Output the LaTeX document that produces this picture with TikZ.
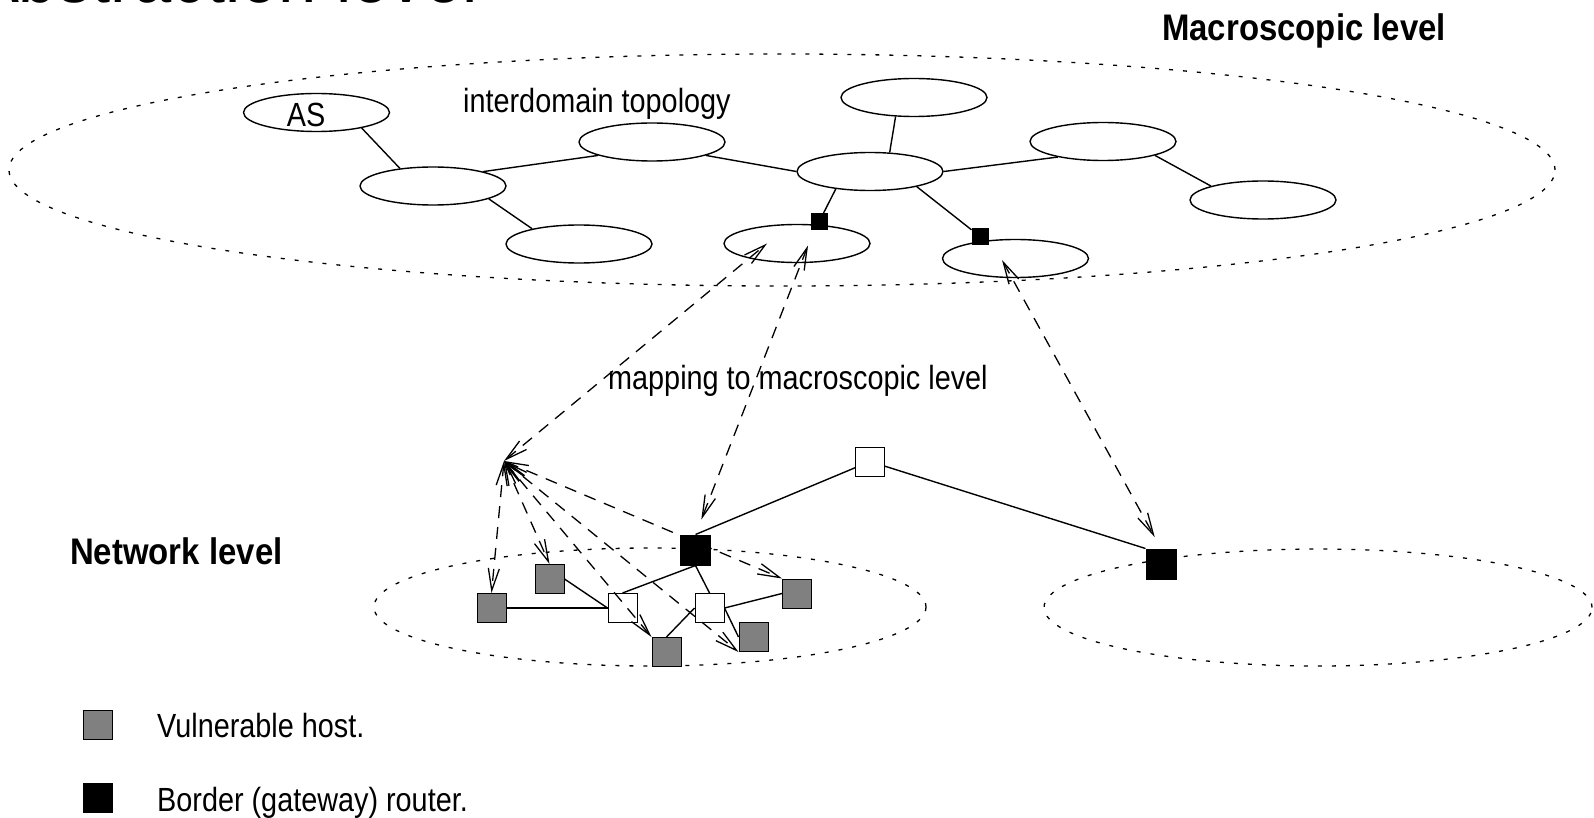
\documentclass[tikz,border=0pt]{standalone}
\usepackage{fontspec}
\setmainfont{Liberation Sans}
\newfontfamily\plainsans{Liberation Sans}[FakeStretch=0.86]
\newfontfamily\headsans{Liberation Sans}[FakeStretch=0.89]
\usetikzlibrary{arrows.meta,backgrounds,shapes.geometric}
\definecolor{hostgray}{RGB}{128,128,128}

\tikzset{
  asbox/.style={ellipse, draw, line width=1.4pt, minimum width=146pt,
    minimum height=38pt, inner sep=0pt},
  zone/.style={ellipse, draw, line width=1.3pt, dash pattern=on 4pt off 10pt,
    inner sep=0pt},
  link/.style={line width=1.4pt},
  maplink/.style={line width=1.3pt, dash pattern=on 12pt off 9pt,
    {Straight Barb[length=22pt,width=11pt]}-{Straight Barb[length=22pt,width=11pt]}},
  sqbox/.style={rectangle, draw, line width=1pt, inner sep=0pt, minimum size=29pt},
  hostbox/.style={sqbox, fill=hostgray},
  relaybox/.style={sqbox, fill=white},
  gatebox/.style={sqbox, fill=black, minimum size=30pt},
  smallgate/.style={sqbox, fill=black, minimum size=16pt},
  plaintext/.style={font=\plainsans\fontsize{33.5pt}{40pt}\selectfont,
    inner sep=0pt, anchor=base west},
  headtext/.style={font=\headsans\bfseries\fontsize{37pt}{44pt}\selectfont,
    inner sep=0pt, anchor=base west},
}

\begin{document}
\begin{tikzpicture}[x=1pt,y=-1pt]
\useasboundingbox (0,0) rectangle (1594,818);

% title line, mostly above the page edge
\begin{scope}
  \clip (0,0) rectangle (1594,818);
  \node[font=\plainsans\fontsize{80pt}{90pt}\selectfont, inner sep=0pt,
        anchor=base east] (title) at (478,3) {Abstraction level};
\end{scope}

% level labels
\node[headtext] (macrolabel) at (1162,41) {Macroscopic level};
\node[headtext] (netlabel) at (70,564) {Network level};
\node[plaintext] (topolabel) at (463,113) {interdomain topology};
\node[plaintext] (maplabel) at (608,389) {mapping to macroscopic level};

% domain outlines
\node[zone, minimum width=1546pt, minimum height=232pt] (macro) at (782,170) {};
\node[zone, minimum width=552pt, minimum height=118pt] (netL) at (650,607) {};
\node[zone, minimum width=548pt, minimum height=117pt] (netR) at (1318,607.5) {};

% autonomous systems
\node[asbox, label={[font=\plainsans\fontsize{33.5pt}{40pt}\selectfont,
      inner sep=0pt, xshift=-10.5pt, yshift=-2.5pt]center:AS}] (as) at (316.5,112.5) {};
\node[asbox] (nb) at (433,186) {};
\node[asbox] (nc) at (579,244) {};
\node[asbox] (nd) at (652,142) {};
\node[asbox] (ne) at (914,97.5) {};
\node[asbox] (nf) at (870,171.5) {};
\node[asbox] (ng) at (1103,141.5) {};
\node[asbox] (nh) at (1263,200) {};
\node[asbox] (ni) at (797,243.5) {};
\node[asbox] (nj) at (1015.5,258.5) {};

% border routers of the two domains
\node[smallgate] (gi) at (819,222) {};
\node[smallgate] (gj) at (980,236.5) {};

% network level
\coordinate (hub) at (504,461);
\node[gatebox] (r1) at (695.5,550) {};
\node[gatebox] (r2) at (1161,564) {};
\node[relaybox] (top) at (870,461.5) {};
\node[relaybox] (w1) at (622.5,608) {};
\node[relaybox] (w2) at (709.5,608) {};
\node[hostbox] (h1) at (491.5,608) {};
\node[hostbox] (h2) at (549.5,579) {};
\node[hostbox] (h3) at (666.5,652) {};
\node[hostbox] (h4) at (753.5,637) {};
\node[hostbox] (h5) at (797,593.5) {};

% legend
\node[hostbox] (keyhost) at (98,724.5) {};
\node[gatebox, minimum size=29pt] (keygate) at (98,798) {};
\node[plaintext] (keyhosttext) at (157,737) {Vulnerable host.};
\node[plaintext] (keygatetext) at (157,811) {Border (gateway) router.};

% links, kept under the boxes
\begin{scope}[on background layer]
  \draw[link] (as.-19) -- (nb.152);
  \draw[link] (nb.16) -- (nd.194);
  \draw[link] (nb.-13) -- (nc.162);
  \draw[link] (nd.-14) -- (nf.180);
  \draw[link] (ne.226) -- (nf.44);
  \draw[link] (nf.0) -- (ng.199);
  \draw[link] (ng.-15) -- (nh.165);
  \draw[link] (nf.207) -- (gi);
  \draw[link] (nf.-18) -- (gj);

  \draw[link] (top) -- (r1.north);
  \draw[link] (top) -- (r2.north west);
  \draw[link] (h1.east) -- (w1.west);
  \draw[link] (h2.east) -- (w1.west);
  \draw[link] (w1.north) -- (r1.south);
  \draw[link] (r1.south) -- (w2.north);
  \draw[link] (w2.west) -- (h3.north);
  \draw[link] (w2.east) -- (h5.west);
  \draw[link] (w2.east) -- (h4.west);
\end{scope}

% mapping between the two levels
\draw[maplink] (hub) -- (h1.north);
\draw[maplink] (hub) -- (h2.north);
\draw[maplink] (hub) -- (h3.north west);
\draw[maplink] (hub) -- (h4.south west);
\draw[maplink] (hub) -- (h5.north west);
\draw[maplink] (hub) -- ([xshift=-30pt]ni.center);
\draw[maplink, shorten >=16pt] ([xshift=11pt,yshift=-2pt]ni.center) -- (r1.north);
\draw[maplink, shorten >=13pt] ([xshift=-13.5pt,yshift=-1.5pt]nj.center) -- (r2.north);
\end{tikzpicture}
\end{document}
